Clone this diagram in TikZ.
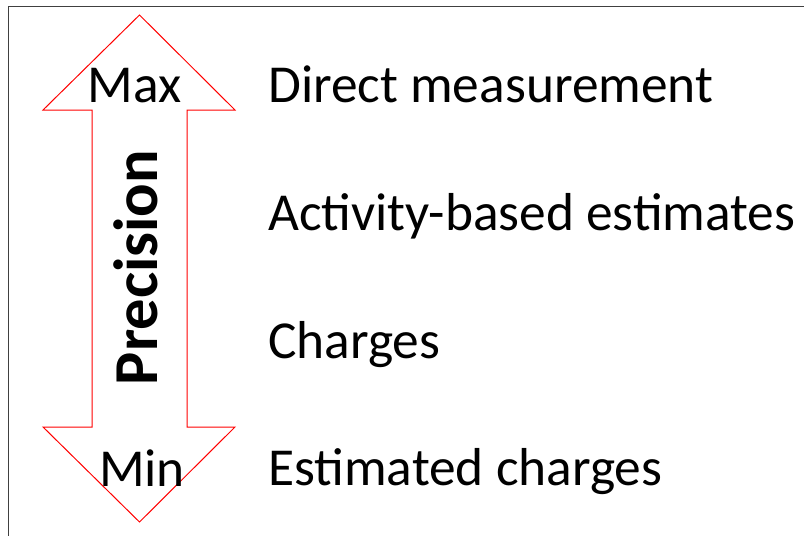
\documentclass[tikz,border=0pt]{standalone}
\usepackage{fontspec}
\setmainfont{Carlito}
\begin{document}
\begin{tikzpicture}[x=1pt,y=1pt,
  lbl/.style={anchor=base west,inner sep=0pt,font=\fontsize{53.4}{64}\selectfont},
  endlbl/.style={anchor=base,inner sep=0pt,font=\fontsize{53.4}{64}\selectfont},
  arrowshape/.style={draw=red,line width=1pt,line join=miter}]
\useasboundingbox (0,0) rectangle (804,-536);
\draw[black!75,line width=1pt] (8,-540) -- (8,-6) -- (810,-6);
\draw[arrowshape] (139.5,-15) -- (235,-110) -- (187,-110) -- (187,-427) -- (235,-427)
  -- (139.5,-522) -- (43,-427) -- (92,-427) -- (92,-110) -- (43,-110) -- cycle;
\node[endlbl] (max) at (134.6,-102) {Max};
\node[endlbl] (min) at (142,-486.5) {Min};
\node[anchor=base,inner sep=0pt,rotate=90,font=\fontsize{62.5}{70}\selectfont\bfseries] (prec) at (157,-267.5) {Precision};
\node[lbl] (t1) at (268,-102.7) {Direct measurement};
\node[lbl] (t2) at (268,-230) {Activity-based estimates};
\node[lbl] (t3) at (268,-358.3) {Charges};
\node[lbl] (t4) at (268,-485) {Estimated charges};
\end{tikzpicture}
\end{document}
